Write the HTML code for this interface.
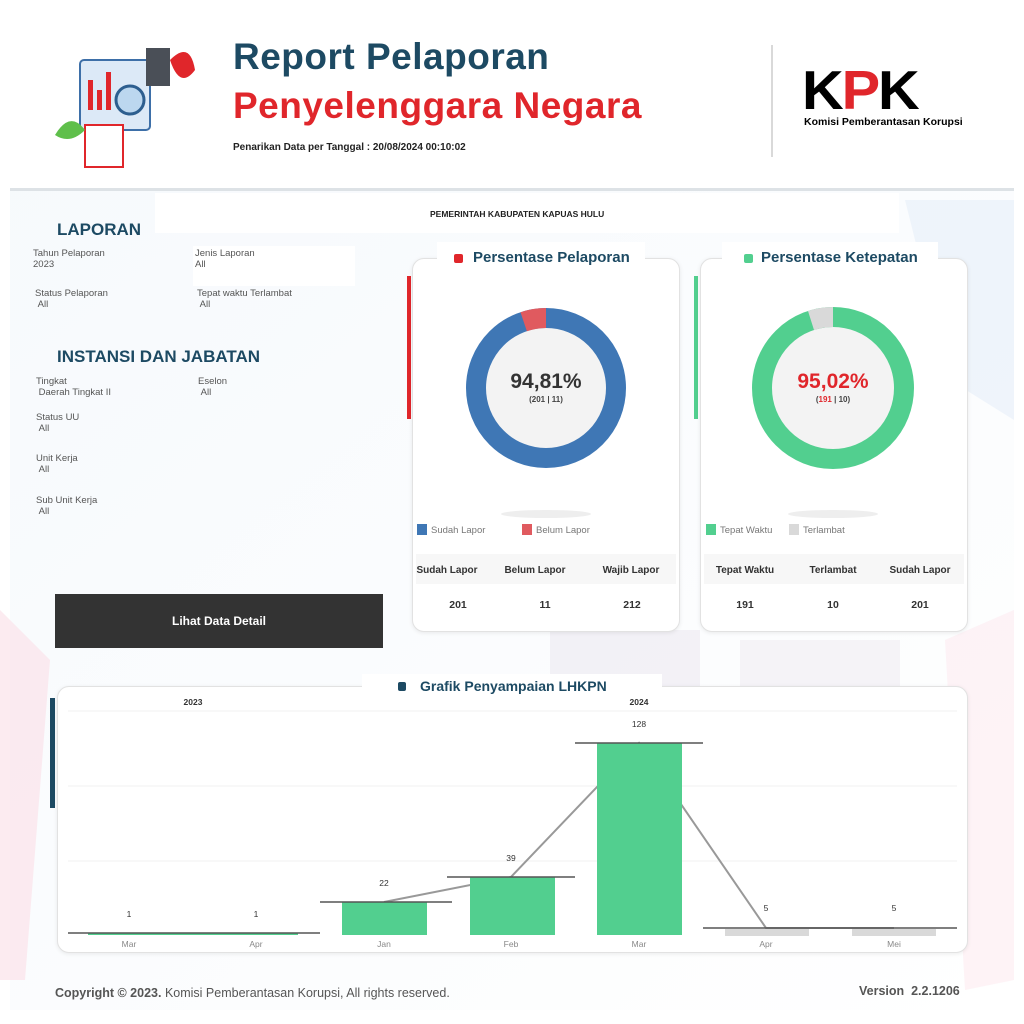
<!DOCTYPE html>
<html><head><meta charset="utf-8"><style>
*{margin:0;padding:0;box-sizing:border-box}
body{width:1024px;height:1024px;position:relative;background:#fff;font-family:"Liberation Sans",sans-serif;overflow:hidden}
.a{position:absolute}
.lbl{font-size:9.5px;color:#555;line-height:11px}
.card{position:absolute;background:#fff;border:1px solid #e2e2e2;border-radius:12px;box-shadow:0 1px 4px rgba(0,0,0,.08)}
.th{font-size:10px;font-weight:bold;color:#333;text-align:center}
.tv{font-size:10.5px;font-weight:bold;color:#333;text-align:center}
</style></head><body>
<svg class="a" style="left:0;top:0" width="1024" height="1024">
<defs><linearGradient id="bg" x1="0" y1="0" x2="1" y2="1"><stop offset="0" stop-color="#eef4fa"/><stop offset="1" stop-color="#fff"/></linearGradient></defs>
<rect x="10" y="190" width="1004" height="820" fill="url(#bg)" opacity=".5"/>
<polygon points="905,200 1014,200 1014,420 950,380" fill="#e6eff9" opacity=".6"/>
<polygon points="0,610 50,660 25,980 0,980" fill="#fbe3e9" opacity=".7"/>
<polygon points="945,640 1014,610 1014,980 965,990" fill="#fde8ed" opacity=".5"/>
<polygon points="550,630 700,630 700,690 550,690" fill="#f0eef4" opacity=".8"/>
<polygon points="740,640 900,640 900,690 740,690" fill="#f2f0f5" opacity=".8"/>
<rect x="10" y="188" width="1004" height="3" fill="#dde2e6"/>
<rect x="80" y="60" width="70" height="70" rx="4" fill="#dce9f7" stroke="#3d6fa8" stroke-width="2"/>
<rect x="88" y="80" width="5" height="30" fill="#e0262b"/><rect x="97" y="90" width="5" height="20" fill="#e0262b"/><rect x="106" y="72" width="5" height="38" fill="#e0262b"/>
<circle cx="130" cy="100" r="14" fill="#bcd7ef" stroke="#2d5e8f" stroke-width="3"/>
<rect x="85" y="125" width="38" height="42" fill="#fff" stroke="#e0262b" stroke-width="2"/>
<rect x="146" y="48" width="24" height="38" fill="#4a4f57"/>
<path d="M55 135 Q70 110 85 130 Q70 145 55 135Z" fill="#5fbf4b"/>
<path d="M170 60 Q190 40 195 70 Q180 90 170 60Z" fill="#e0262b"/>
<line x1="772" y1="45" x2="772" y2="157" stroke="#ccc" stroke-width="1.5"/>
</svg>
<div class="a" style="left:233px;top:36px;font-size:37px;font-weight:bold;color:#1d4a63;letter-spacing:.5px">Report Pelaporan</div>
<div class="a" style="left:233px;top:85px;font-size:37px;font-weight:bold;color:#e0262b;letter-spacing:.5px">Penyelenggara Negara</div>
<div class="a" style="left:233px;top:142px;font-size:10px;font-weight:bold;color:#222">Penarikan Data per Tanggal : 20/08/2024 00:10:02</div>
<div class="a" style="left:802px;top:60px;font-size:55px;font-weight:900;color:#000;letter-spacing:-2px;line-height:60px;transform:scaleX(1.05);transform-origin:left">K<span style="color:#e0262b">P</span>K</div>
<div class="a" style="left:804px;top:116px;font-size:10.5px;font-weight:bold;color:#000">Komisi Pemberantasan Korupsi</div>

<div class="a" style="left:155px;top:193px;width:744px;height:40px;background:#fff"></div>
<div class="a" style="left:430px;top:209px;font-size:8.5px;font-weight:bold;color:#222">PEMERINTAH KABUPATEN KAPUAS HULU</div>

<div class="a" style="left:57px;top:220px;font-size:17px;font-weight:bold;color:#1d4a63">LAPORAN</div>
<div class="a" style="left:193px;top:246px;width:162px;height:40px;background:#fff"></div>
<div class="a lbl" style="left:33px;top:248px">Tahun Pelaporan<br>2023</div>
<div class="a lbl" style="left:195px;top:248px">Jenis Laporan<br>All</div>
<div class="a lbl" style="left:35px;top:288px">Status Pelaporan<br>&nbsp;All</div>
<div class="a lbl" style="left:197px;top:288px">Tepat waktu Terlambat<br>&nbsp;All</div>
<div class="a" style="left:57px;top:347px;font-size:17px;font-weight:bold;color:#1d4a63">INSTANSI DAN JABATAN</div>
<div class="a lbl" style="left:36px;top:376px">Tingkat<br>&nbsp;Daerah Tingkat II</div>
<div class="a lbl" style="left:198px;top:376px">Eselon<br>&nbsp;All</div>
<div class="a lbl" style="left:36px;top:412px">Status UU<br>&nbsp;All</div>
<div class="a lbl" style="left:36px;top:453px">Unit Kerja<br>&nbsp;All</div>
<div class="a lbl" style="left:36px;top:495px">Sub Unit Kerja<br>&nbsp;All</div>
<div class="a" style="left:55px;top:594px;width:328px;height:54px;background:#333;color:#fff;font-size:12px;font-weight:bold;text-align:center;line-height:54px">Lihat Data Detail</div>

<div class="a" style="left:407px;top:276px;width:4px;height:143px;background:#e0262b"></div>
<div class="a" style="left:694px;top:276px;width:4px;height:143px;background:#52cf8f"></div>
<div class="a" style="left:50px;top:698px;width:5px;height:110px;background:#1d4a63"></div>

<div class="card" style="left:412px;top:258px;width:268px;height:374px"></div>
<div class="card" style="left:700px;top:258px;width:268px;height:374px"></div>
<div class="a" style="left:437px;top:242px;width:208px;height:30px;background:#fff"></div>
<div class="a" style="left:722px;top:242px;width:216px;height:30px;background:#fff"></div>
<div class="a" style="left:454px;top:254px;width:9px;height:9px;border-radius:2px;background:#e0262b"></div>
<div class="a" style="left:473px;top:249px;font-size:15px;font-weight:bold;color:#1d4a63">Persentase Pelaporan</div>
<div class="a" style="left:744px;top:254px;width:9px;height:9px;border-radius:2px;background:#52cf8f"></div>
<div class="a" style="left:761px;top:249px;font-size:15px;font-weight:bold;color:#1d4a63">Persentase Ketepatan</div>

<svg class="a" style="left:0;top:0" width="1024" height="1024">
<circle cx="546" cy="388" r="70" fill="#f3f3f3" stroke="#3f77b5" stroke-width="20"/>
<path d="M546 308 A80 80 0 0 0 520.5 312.2 L526.9 331.2 A60 60 0 0 1 546 328Z" fill="#e05a5f"/>
<circle cx="833" cy="388" r="71" fill="#f3f3f3" stroke="#52cf8f" stroke-width="20"/>
<path d="M833 307 A81 81 0 0 0 808 311 L814 330 A61 61 0 0 1 833 327Z" fill="#d9d9d9"/>
<ellipse cx="546" cy="514" rx="45" ry="4" fill="#eee"/>
<ellipse cx="833" cy="514" rx="45" ry="4" fill="#eee"/>
<rect x="416" y="554" width="260" height="30" fill="#f7f7f7"/>
<rect x="704" y="554" width="260" height="30" fill="#f7f7f7"/>
<rect x="417" y="524" width="10" height="11" fill="#3f77b5"/><rect x="522" y="524" width="10" height="11" fill="#e05a5f"/>
<rect x="706" y="524" width="10" height="11" fill="#52cf8f"/><rect x="789" y="524" width="10" height="11" fill="#d9d9d9"/>
</svg>
<div class="a" style="left:486px;top:370px;width:120px;text-align:center;font-size:21px;font-weight:bold;color:#333">94,81%</div>
<div class="a" style="left:486px;top:395px;width:120px;text-align:center;font-size:8px;font-weight:bold;color:#444">(201 | 11)</div>
<div class="a" style="left:773px;top:370px;width:120px;text-align:center;font-size:21px;font-weight:bold;color:#e0262b">95,02%</div>
<div class="a" style="left:773px;top:395px;width:120px;text-align:center;font-size:8px;font-weight:bold;color:#444">(<span style="color:#e0262b">191</span> | 10)</div>
<div class="a lbl" style="left:431px;top:525px;color:#777">Sudah Lapor</div>
<div class="a lbl" style="left:536px;top:525px;color:#777">Belum Lapor</div>
<div class="a lbl" style="left:720px;top:525px;color:#777">Tepat Waktu</div>
<div class="a lbl" style="left:803px;top:525px;color:#777">Terlambat</div>
<div class="a th" style="left:412px;top:565px;width:70px">Sudah Lapor</div>
<div class="a th" style="left:500px;top:565px;width:70px">Belum Lapor</div>
<div class="a th" style="left:596px;top:565px;width:70px">Wajib Lapor</div>
<div class="a tv" style="left:412px;top:599px;width:92px">201</div>
<div class="a tv" style="left:500px;top:599px;width:90px">11</div>
<div class="a tv" style="left:587px;top:599px;width:90px">212</div>
<div class="a th" style="left:705px;top:565px;width:80px">Tepat Waktu</div>
<div class="a th" style="left:793px;top:565px;width:80px">Terlambat</div>
<div class="a th" style="left:878px;top:565px;width:84px">Sudah Lapor</div>
<div class="a tv" style="left:705px;top:599px;width:80px">191</div>
<div class="a tv" style="left:793px;top:599px;width:80px">10</div>
<div class="a tv" style="left:878px;top:599px;width:84px">201</div>

<div class="card" style="left:57px;top:686px;width:911px;height:267px"></div>
<div class="a" style="left:362px;top:674px;width:300px;height:24px;background:#fff"></div>
<div class="a" style="left:398px;top:682px;width:8px;height:9px;border-radius:2px;background:#1d4a63"></div>
<div class="a" style="left:420px;top:678px;font-size:14px;font-weight:bold;color:#1d4a63">Grafik Penyampaian LHKPN</div>
<svg class="a" style="left:0;top:0" width="1024" height="1024" font-family="Liberation Sans" font-size="8.5" fill="#333">
<g stroke="#f0f0f0"><line x1="68" y1="711" x2="957" y2="711"/><line x1="68" y1="786" x2="957" y2="786"/><line x1="68" y1="861" x2="957" y2="861"/></g>
<text x="193" y="705" font-weight="bold" text-anchor="middle">2023</text>
<text x="639" y="705" font-weight="bold" text-anchor="middle">2024</text>
<polyline points="384,902 511,877 639,743 766,928 894,928" fill="none" stroke="#999" stroke-width="2"/>
<rect x="342" y="902" width="85" height="33" fill="#52cf8f"/>
<rect x="470" y="877" width="85" height="58" fill="#52cf8f"/>
<rect x="597" y="743" width="85" height="192" fill="#52cf8f"/>
<rect x="88" y="933" width="210" height="2" fill="#52cf8f"/>
<rect x="725" y="929" width="84" height="7" fill="#d9d9d9"/>
<rect x="852" y="929" width="84" height="7" fill="#d9d9d9"/>
<g stroke="#555" stroke-width="1.5"><line x1="68" y1="933" x2="320" y2="933"/><line x1="320" y1="902" x2="452" y2="902"/><line x1="447" y1="877" x2="575" y2="877"/><line x1="575" y1="743" x2="703" y2="743"/><line x1="703" y1="928" x2="957" y2="928"/></g>
<g text-anchor="middle"><text x="129" y="917">1</text><text x="256" y="917">1</text><text x="384" y="886">22</text><text x="511" y="861">39</text><text x="639" y="727">128</text><text x="766" y="911">5</text><text x="894" y="911">5</text></g>
<g text-anchor="middle" fill="#888"><text x="129" y="947">Mar</text><text x="256" y="947">Apr</text><text x="384" y="947">Jan</text><text x="511" y="947">Feb</text><text x="639" y="947">Mar</text><text x="766" y="947">Apr</text><text x="894" y="947">Mei</text></g>
</svg>
<div class="a" style="left:55px;top:986px;font-size:12.5px;color:#555"><b>Copyright © 2023.</b> Komisi Pemberantasan Korupsi, All rights reserved.</div>
<div class="a" style="left:859px;top:984px;font-size:12.5px;font-weight:bold;color:#555">Version&nbsp; 2.2.1206</div>
</body></html>
